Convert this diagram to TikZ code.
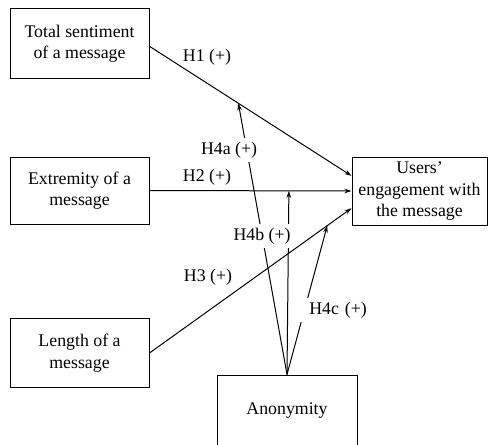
\documentclass[tikz,border=0pt]{standalone}
\usepackage{fontspec}
\setmainfont{Liberation Serif}
\usetikzlibrary{arrows.meta,calc}
\begin{document}
\begin{tikzpicture}[x=1pt,y=-1pt,
  box/.style={draw, line width=1pt, minimum width=139pt, minimum height=69pt, align=center, font=\fontsize{17.8}{21.5}\selectfont, inner sep=0pt},
  lbl/.style={font=\fontsize{17.8}{21.5}\selectfont, inner sep=1pt},
  wlbl/.style={lbl, fill=white, inner ysep=4pt},
  arr/.style={line width=1pt, -{Stealth[length=7pt,width=4.5pt]}}]
\clip (0,0) rectangle (489,444);
\node[box] (ts) at (79.5,43.5) {Total sentiment\\of a message};
\node[box, minimum height=67pt] (ex) at (79.5,190.5) {Extremity of a\\message};
\node[box] (le) at (79.5,353) {Length of a\\message};
\node[box, minimum width=135pt, minimum height=68pt] (us) at (419.5,191) {Users’\\engagement with\\the message};
\node[box, minimum width=140pt, minimum height=72pt] (an) at (287,411) {Anonymity};
\coordinate (u1) at ($(us.north west)!0.28!(us.south west)$);
\coordinate (u3) at ($(us.north west)!0.75!(us.south west)$);
\coordinate (t1) at ($(ts.north east)!0.54!(ts.south east)$);
\draw[arr] (t1) -- (u1) coordinate[pos=0.44] (m1);
\draw[arr] (ex.east) -- (us.west) coordinate[pos=0.69] (m2);
\draw[arr] (le.east) -- (u3) coordinate[pos=0.88] (m3);
\draw[arr] (an.north) -- (m1);
\draw[arr] (an.north) -- (m2);
\draw[arr] (an.north) -- (m3);
\node[lbl] (h1) at (207,57) {H1 (+)};
\node[lbl] (h2) at (207,177) {H2 (+)};
\node[lbl] (h3) at (208,277) {H3 (+)};
\node[wlbl] (h4a) at (229,150) {H4a (+)};
\node[wlbl] (h4b) at (262,236) {H4b (+)};
\node[wlbl, anchor=east, text width=66pt, align=right] (h4c) at (368,310) {H4c (+)};
\end{tikzpicture}
\end{document}
